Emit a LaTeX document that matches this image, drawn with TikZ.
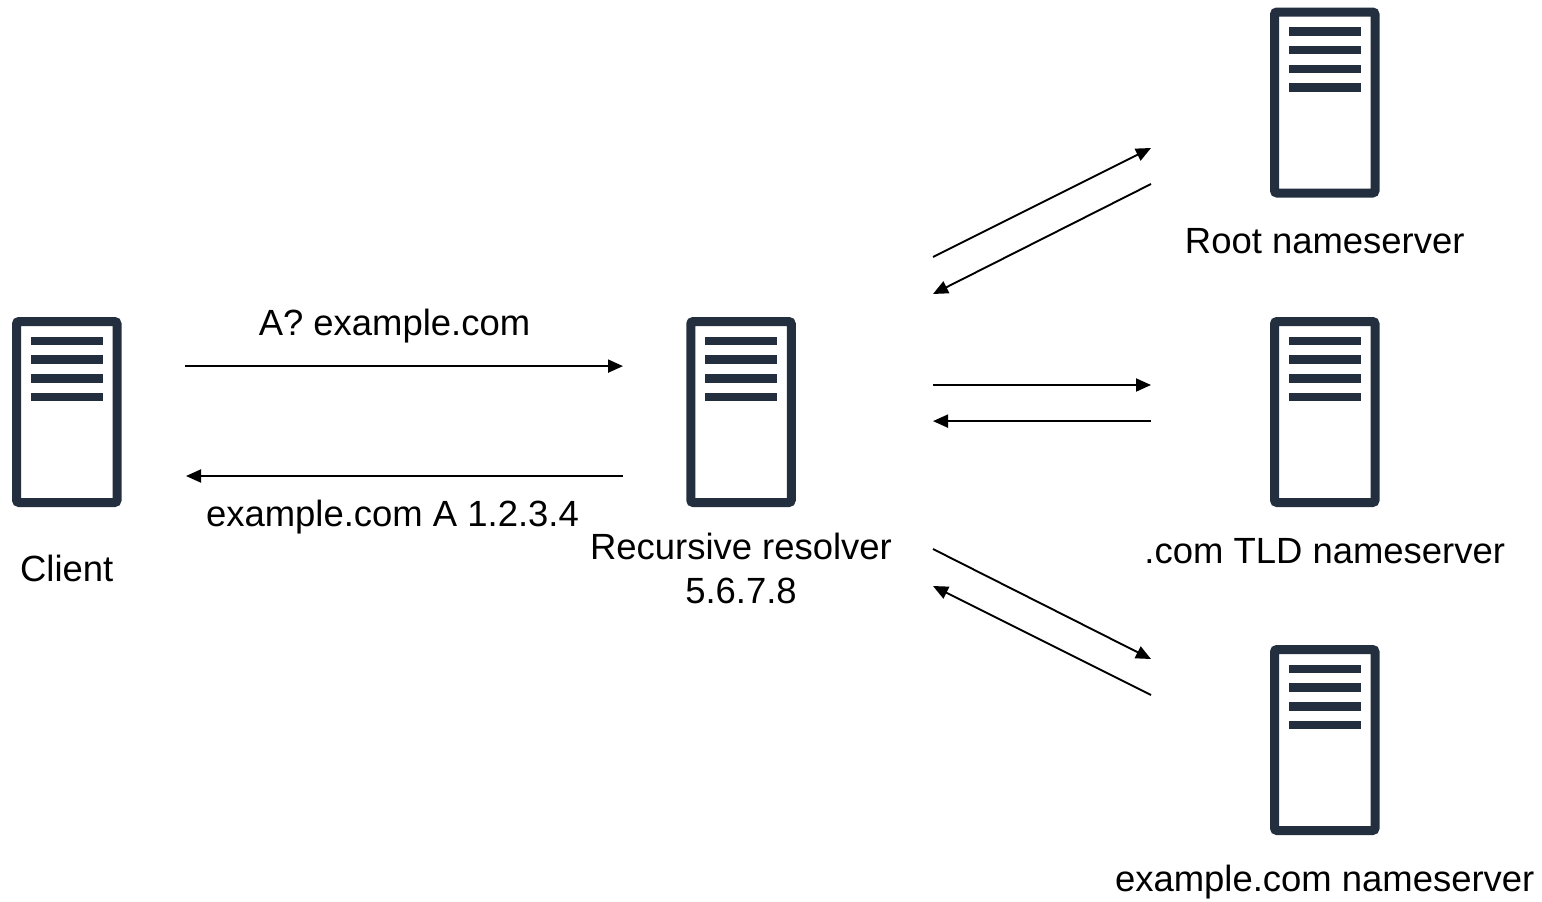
\documentclass[tikz,border=0pt]{standalone}
\usepackage{fontspec}
\setmainfont{Liberation Sans}
\usetikzlibrary{arrows.meta,calc}
\definecolor{srv}{HTML}{232F3E}
\tikzset{
  x=1pt,y=-1pt,
  server/.style={draw=srv,fill=white,line width=9pt,rounded corners=2.5pt,minimum width=100.5pt,minimum height=181pt,inner sep=0pt},
  bar/.style={fill=srv,draw=none},
  lbl/.style={anchor=base,inner sep=0pt,font=\fontsize{36.45pt}{44pt}\selectfont,text=black},
  flow/.style={draw=black,line width=1.9pt,-{Triangle[length=15pt,width=13pt]}}
}
\newcommand{\serverbox}[3]{%
  \node[server] (#1) at (#2,#3) {};
  \foreach \t in {-75.5,-57,-38,-19.5}{
    \fill[bar] ($(#1.center)+(-36,\t)$) rectangle ($(#1.center)+(36,\t+8.7)$);
  }%
}
\begin{document}
\begin{tikzpicture}
\useasboundingbox (0,0) rectangle (1542,902);
\serverbox{client}{66.75}{412}
\serverbox{resolver}{741}{412}
\serverbox{root}{1324.75}{102.5}
\serverbox{tld}{1324.75}{412}
\serverbox{exns}{1324.75}{740}

\node[lbl] (lclient) at (66.75,581) {Client};
\node[lbl] (lres1) at (741,559) {Recursive resolver};
\node[lbl] (lres2) at (741,603) {5.6.7.8};
\node[lbl] (lroot) at (1324.75,253) {Root nameserver};
\node[lbl] (ltld) at (1324.75,563) {.com TLD nameserver};
\node[lbl] (lex) at (1324.75,891) {example.com nameserver};
\node[lbl] (lq) at (394.5,335) {A? example.com};
\node[lbl] (la) at (392.5,526) {example.com A 1.2.3.4};

\coordinate (c1) at (185,366.1);
\coordinate (r1) at (623,366.1);
\coordinate (r2) at (623,476);
\coordinate (c2) at (186,476);
\coordinate (a1) at (933,257);
\coordinate (b1) at (1151,148);
\coordinate (b2) at (1151,184);
\coordinate (a2) at (933,294);
\coordinate (a3) at (933,385);
\coordinate (b3) at (1151,385);
\coordinate (b4) at (1151,421.1);
\coordinate (a4) at (933,421.1);
\coordinate (a5) at (933,549);
\coordinate (b5) at (1151,659);
\coordinate (b6) at (1151,695);
\coordinate (a6) at (933,586);
\draw[flow] (c1) -- (r1);
\draw[flow] (r2) -- (c2);
\draw[flow] (a1) -- (b1);
\draw[flow] (b2) -- (a2);
\draw[flow] (a3) -- (b3);
\draw[flow] (b4) -- (a4);
\draw[flow] (a5) -- (b5);
\draw[flow] (b6) -- (a6);
\end{tikzpicture}
\end{document}
